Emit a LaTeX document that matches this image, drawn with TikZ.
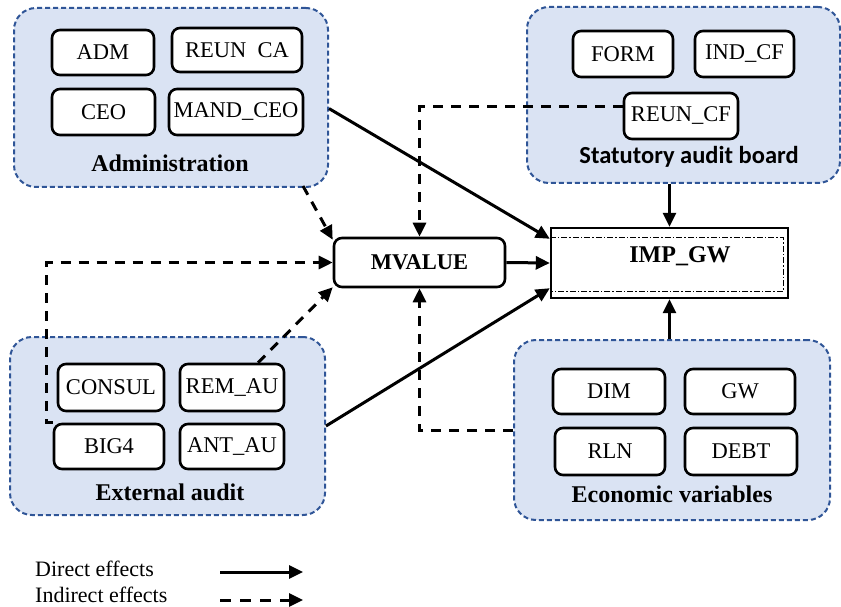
\documentclass[tikz,border=0pt]{standalone}
\usepackage{fontspec}
\setmainfont{Liberation Serif}
\newfontfamily\calib{Carlito}
\usetikzlibrary{calc,arrows.meta}
\definecolor{grpfill}{HTML}{DAE3F3}
\definecolor{grpborder}{HTML}{2F5597}
\tikzset{
  grp/.style={draw=grpborder, fill=grpfill, line width=2pt, dash pattern=on 5pt off 3pt, rounded corners=22pt, inner sep=0},
  var/.style={draw, fill=white, line width=2.6pt, rounded corners=8pt, inner sep=0, font=\fontsize{22.5}{25}\selectfont},
  glabel/.style={font=\fontsize{24}{27}\selectfont\bfseries, inner sep=0},
  direct/.style={line width=3pt, -{Triangle[length=14pt,width=13pt]}},
  indirect/.style={line width=3pt, dash pattern=on 10pt off 8pt, -{Triangle[length=14pt,width=13pt]}},
}
\begin{document}
\begin{tikzpicture}[x=1pt,y=-1pt]
\useasboundingbox (0,0) rectangle (841,607);
% Administration
\node[grp, minimum width=314pt, minimum height=179pt] (adm) at (171,97.5) {};
\node[var, minimum width=102pt, minimum height=45pt] (ADM) at (103,52.5) {ADM};
\node[var, minimum width=130pt, minimum height=44pt] (REUNCA) at (237,50) {REUN\ \ CA};
\node[var, minimum width=103pt, minimum height=46pt] (CEO) at (103.5,112) {CEO};
\node[var, minimum width=134pt, minimum height=46pt] (MANDCEO) at (236,112) {MAND\_CEO};
\node[glabel] (admlab) at (170,163) {Administration};
% Statutory audit board
\node[grp, minimum width=313pt, minimum height=176pt] (stat) at (683.5,95) {};
\node[var, minimum width=100pt, minimum height=46pt] (FORM) at (623,54) {FORM};
\node[var, minimum width=99pt, minimum height=46pt] (INDCF) at (744.5,54) {IND\_CF};
\node[var, minimum width=114pt, minimum height=46pt] (REUNCF) at (681,116) {REUN\_CF};
\node[font=\calib\fontsize{24.5}{27}\selectfont\bfseries, inner sep=0] (statlab) at (689,157) {Statutory audit board};
% External audit
\node[grp, minimum width=315pt, minimum height=178pt] (ext) at (167.5,426) {};
\node[var, minimum width=106pt, minimum height=47pt] (CONSUL) at (111,387.5) {CONSUL};
\node[var, minimum width=104pt, minimum height=47pt] (REMAU) at (232,387.5) {REM\_AU};
\node[var, minimum width=110pt, minimum height=45pt] (BIG4) at (109,446.5) {BIG4};
\node[var, minimum width=104pt, minimum height=45pt] (ANTAU) at (232,446.5) {ANT\_AU};
\node[glabel] (extlab) at (170,492) {External audit};
% Economic variables
\node[grp, minimum width=316pt, minimum height=180pt] (econ) at (672,430) {};
\node[var, minimum width=112pt, minimum height=45pt] (DIM) at (609,391.5) {DIM};
\node[var, minimum width=110pt, minimum height=45pt] (GW) at (740,391.5) {GW};
\node[var, minimum width=110pt, minimum height=47pt] (RLN) at (610,451.5) {RLN};
\node[var, minimum width=112pt, minimum height=47pt] (DEBT) at (741,451.5) {DEBT};
\node[glabel] (econlab) at (672,494) {Economic variables};
% Central nodes
\node[var, minimum width=171pt, minimum height=49pt, font=\fontsize{22.5}{25}\selectfont\bfseries] (mv) at (419.5,262.5) {MVALUE};
\node[draw, fill=white, line width=2.4pt, minimum width=237pt, minimum height=70pt, inner sep=0] (imp) at (669.5,263) {};
\draw[line width=1.1pt, dash pattern=on 6pt off 2pt on 1.5pt off 2pt]
  ($(imp.north west)+(0,11)$) -- ($(imp.north east)+(-6,11)$) -- ($(imp.south east)+(-6,-8)$) -- ($(imp.south west)+(0,-8)$);
\node[font=\fontsize{24}{26}\selectfont\bfseries, inner sep=0] (implab) at (680,256) {IMP\_GW};
% Direct effects
\draw[direct] (adm.-4.5) -- ($(imp.north west)+(0,12)$);
\draw[direct] (mv.east) -- (imp.west);
\draw[direct] (ext.east) -- ($(imp.south west)+(0,-11)$);
\draw[direct] (stat.south -| imp.north) -- (imp.north);
\draw[direct] (econ.north -| imp.south) -- (imp.south);
% Indirect effects
\draw[indirect] ($(adm.south east)+(-26,-2)$) -- ($(mv.north west)+(0,3)$);
\draw[indirect] ($(REUNCF.west)+(0,-9)$) -| (mv.north);
\draw[indirect] (BIG4.north west) -- ++(-6,0) |- (mv.west);
\draw[indirect] ($(REMAU.north)+(26,0)$) -- ($(mv.south west)+(0,-1)$);
\draw[indirect] (econ.west) -| (mv.south);
% Legend
\node[anchor=west, inner sep=0, font=\fontsize{22}{24}\selectfont] (ldir) at (35,569) {Direct effects};
\node[anchor=west, inner sep=0, font=\fontsize{22}{24}\selectfont] (lind) at (35,595) {Indirect effects};
\coordinate (d1) at (220,572);
\coordinate (d2) at (303,572);
\coordinate (i1) at (220,600);
\coordinate (i2) at (303,600);
\draw[direct] (d1) -- (d2);
\draw[indirect, dash pattern=on 11pt off 9pt] (i1) -- (i2);
\end{tikzpicture}
\end{document}
